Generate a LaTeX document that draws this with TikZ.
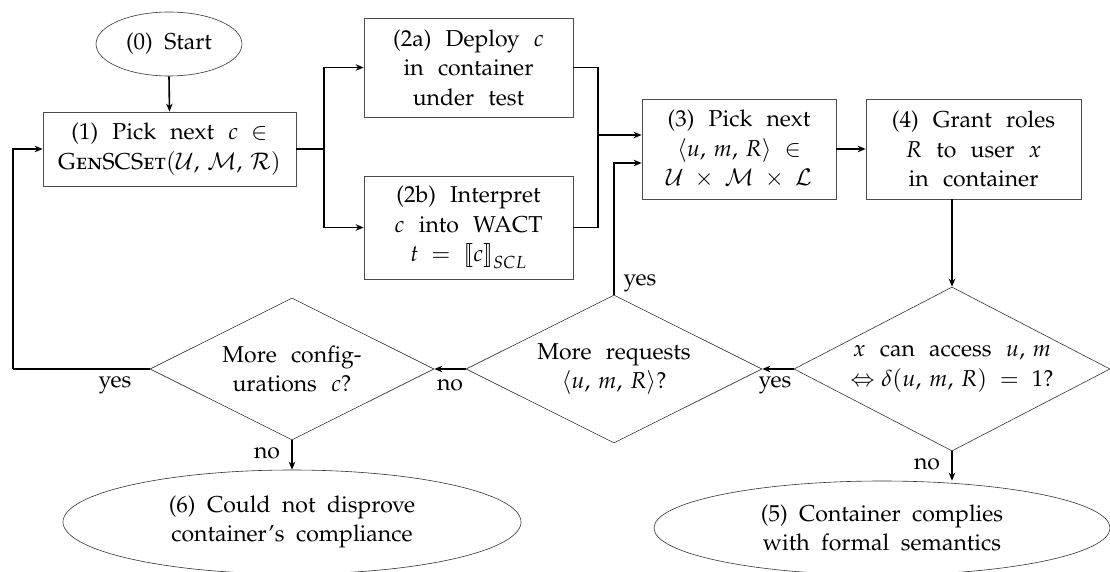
\documentclass[tikz,border=0pt]{standalone}
\usepackage[T1]{fontenc}
\usepackage[sc]{mathpazo}
\usetikzlibrary{shapes.geometric,arrows.meta}
\newcommand{\mylb}{\mathopen{[\mkern-3.5mu[}}
\newcommand{\myrb}{\mathclose{]\mkern-3.5mu]}}
\newcommand{\myfont}{\fontsize{23}{29.5}\selectfont\spaceskip=0.5em plus 0.1em minus 0.05em\relax}
\newcommand{\wfont}{\fontsize{23}{29.5}\selectfont\spaceskip=0.62em plus 0.1em minus 0.05em\relax}
\tikzset{
  every node/.style={font=\myfont, align=center, inner sep=0pt},
  box/.style={draw=black!70, line width=0.7pt, rectangle, font=\wfont},
  ell/.style={draw=black!80, line width=0.6pt, ellipse},
  dia/.style={draw=black!80, line width=0.6pt, diamond},
  dtext/.style={font=\wfont},
  conn/.style={draw=black, line width=1.6pt, -{Stealth[length=8pt,width=6.5pt,inset=2.5pt]}},
  wire/.style={draw=black, line width=1.6pt},
  lbl/.style={font=\myfont}
}
\begin{document}
\begin{tikzpicture}[x=1pt,y=1pt]
\useasboundingbox (0,0) rectangle (1110,-572);
\begin{scope}
\clip (0,0) rectangle (1110,-572);
\node[ell, minimum width=146, minimum height=64] (start) at (169,-44) {(0) Start};
\node[box, minimum width=253, minimum height=74] (b1) at (169.5,-149) {(1) Pick next $c\;\in$\\\textsc{GenSCSet}$(\mathcal{U},\,\mathcal{M},\,\mathcal{R})$};
\node[box, minimum width=209, minimum height=99] (b2a) at (468.5,-67.5) {(2a) Deploy $c$\\in container\\under test};
\node[box, minimum width=209, minimum height=103] (b2b) at (468.5,-227.5) {(2b) Interpret\\$c$ into WACT\\$t\;=\;\mylb c\myrb_{SCL}$};
\node[box, minimum width=194, minimum height=100] (b3) at (739,-149) {(3) Pick next\\$\langle u,\,m,\,R\rangle\;\in$\\$\mathcal{U}\;\times\;\mathcal{M}\;\times\;\mathcal{L}$};
\node[box, minimum width=215, minimum height=100] (b4) at (973.5,-149) {(4) Grant roles\\$R$ to user $x$\\in container};

\node[dia, minimum width=316, minimum height=164] (d3) at (952,-369) {};
\node[dtext] (d3t) at (d3.center) {$x$ can access $u,\,m$\\$\Leftrightarrow\delta(u,\,m,\,R)\;=\;1$?};
\node[dia, minimum width=296, minimum height=148] (d2) at (614,-369) {};
\node[dtext] (d2t) at (d2.center) {More requests\\$\langle u,\,m,\,R\rangle$?};
\node[dia, minimum width=284, minimum height=142] (d1) at (292,-369) {};
\node[dtext] (d1t) at (d1.center) {More config-\\urations $c$?};

\node[ell, minimum width=458, minimum height=104] (e6) at (292,-522) {(6) Could not disprove\\container's compliance};
\node[ell, minimum width=456, minimum height=94] (e5) at (882,-528) {(5) Container complies\\with formal semantics};

\coordinate (j1) at (324,-149);
\coordinate (j2) at (598,-135);
\coordinate (lp) at (13,-369);

\draw[conn] (start.south) -- (b1.north);
\draw[wire] (b1.east) -- (j1);
\draw[conn] (j1) |- (b2a.west);
\draw[conn] (j1) |- (b2b.west);
\draw[wire] (b2a.east) -| (j2);
\draw[wire] (b2b.east) -| (j2);
\draw[conn] (j2) -- (j2 -| b3.west);
\draw[conn] (d2.north) |- ([yshift=-14pt]b3.west);
\draw[conn] (b3.east) -- (b4.west);
\draw[conn] (b4.south -| d3.north) -- (d3.north);
\draw[conn] (d3.west) -- (d2.east);
\draw[conn] (d2.west) -- (d1.east);
\draw[wire] (d1.west) -- (lp);
\draw[conn] (lp) |- (b1.west);
\draw[conn] (d1.south) -- (e6.north);
\draw[conn] (d3.south) -- (e5.north -| d3.south);

\node[lbl] (l1) at (640,-283) {yes};
\node[lbl] (l2) at (775,-385) {yes};
\node[lbl] (l3) at (450,-385) {no};
\node[lbl] (l4) at (115,-385) {yes};
\node[lbl] (l5) at ([xshift=-25pt,yshift=-13pt]d1.south) {no};
\node[lbl] (l6) at ([xshift=-25pt,yshift=-13pt]d3.south) {no};
\end{scope}
\end{tikzpicture}
\end{document}
